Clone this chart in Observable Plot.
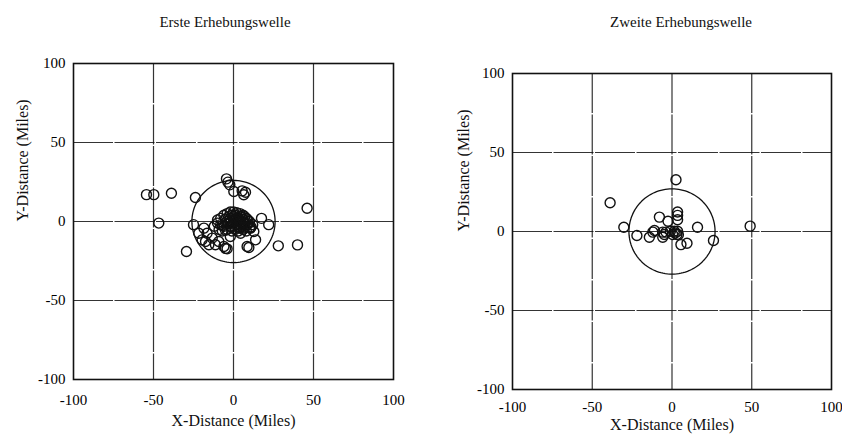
<!DOCTYPE html>
<html>
<head>
<meta charset="utf-8">
<script src="https://cdn.jsdelivr.net/npm/d3@7"></script>
<script src="https://cdn.jsdelivr.net/npm/@observablehq/plot@0.6"></script>
<style>
  html, body { margin: 0; padding: 0; background: #fff; }
  #wrap { position: relative; width: 842px; height: 438px; overflow: hidden; font-family: "Liberation Serif", "Times New Roman", serif; color: #111; }
  .ttl { position: absolute; top: 14px; font-size: 15px; transform: translateX(-50%); white-space: nowrap; z-index: 5; }
  .chart { position: absolute; top: 0; z-index: 1; }
</style>
</head>
<body>
<div id="wrap">
  <div class="chart" id="c1" style="left:0px"></div>
  <div class="chart" id="c2" style="left:421px"></div>
  <div class="ttl" id="t1" style="left:225px"></div>
  <div class="ttl" id="t2" style="left:681px"></div>
</div>
<script>
// ---- data ----
const titles = ["Erste Erhebungswelle", "Zweite Erhebungswelle"];
const xLabel = "X-Distance (Miles)";
const yLabel = "Y-Distance (Miles)";
const xTicks = [-100, -50, 0, 50, 100];
const yTicks = [-100, -50, 0, 50, 100];
const gridTicks = [-50, 0, 50];

// Wave 1: scattered circles
const wave1X = [-54.4, -49.8, -38.8, -23.8, -46.7, -29.4,
  -4.4, -3.5, -2.3, 0.2, 5.4, 6.4, 7.5,
  -25, 17.5, 22, 46, 28, 40, 9.6, -5, 13.8,
  -18.5, -16.5, -13.3, -17.5, -9.2, -6, -4, -11.3, 12.7, 8.5, -10, -8, -2, 4.4, 6.4, 10.6, -21.7, -19.6, -15.4,
  // dense core
  -12, -10, -8, -6, -4, -2, 0, 2, 4, 6, 8, 10, 12,
  -9, -6, -4, -2, 0, 2, 4, 6, 8, 10,
  -7, -4, -2, 0, 2, 4, 6, 8,
  -1, 1, 3, 5, -3, 1, 3, 5, 7, 9,
  -5, -3, -1, 1, 3, 5, 7, 9, -7, -5, -1, 3, 7, 11, 0, 2, 4, -2, 6];
const wave1Y = [17, 17, 17.9, 15.2, -1, -19,
  27, 24.9, 23.2, 19, 19.4, 16.9, 18.5,
  -2, 2, -2, 8.4, -15.4, -14.8, -16.5, -17, -11.6,
  -4.2, -7.4, -10.5, -12.7, -12.7, -15.8, -17.3, -14.7, -6.3, -15.8, 1, -2, -9.5, -7.4, -4.2, -4.2, -7.4, -11.6, -14.7,
  -3, -1, 2, 4, 5, 6, 6, 5.5, 5, 4, 2, 0, -2,
  -5, -3, 0, 2, 3, 2, 1, 0, -2, -4,
  -6, -5, -3, -1, -2, -4, -5, -6,
  -6, -5, 0, 3, 3, 1, -6, -3, 3, 1,
  1.5, -1.5, 4, 4, 2.5, -1, -1, -1.5, -2.5, -5.5, -3.5, -3.5, -3.5, -3.5, 0.5, 0, 3.5, -1, 1.5];

// Wave 2
const wave2X = [2.5, -38.8, -30.2, -22, -14.2, -11, -7.9, -2.5, -4.8, 3.5, 3.5, 3.5, 16, 26, 49,
  5.6, 9.4, -5.8, -3.75, -1, 1.5, 3.5, 0.4, 3.1, -5.8, -12, 2, 4];
const wave2Y = [32.8, 18.2, 2.7, -2.5, -3.6, 0.6, 9.1, 6.5, -1.9, 12.3, 10.2, 7.4, 2.7, -5.7, 3.4,
  -8.3, -7.4, -0.4, -0.4, 0.2, 0.2, 0.2, -1.9, -1.9, -3.6, -0.4, -1, -2];

const ringRadius = [26, 27];

// ---- drawing ----
document.getElementById("t1").textContent = titles[0];
document.getElementById("t2").textContent = titles[1];

function ring(r) {
  return d3.range(0, 361, 3).map(a => ({x: r * Math.cos(a * Math.PI / 180), y: r * Math.sin(a * Math.PI / 180)}));
}

function chart(xs, ys, r, m, xTitleDy, yTitleDx, xPad) {
  const pts = xs.map((x, i) => ({x, y: ys[i]}));
  return Plot.plot({
    width: 421,
    height: 438,
    marginLeft: m.left, marginRight: m.right, marginTop: m.top, marginBottom: m.bottom,
    style: {fontFamily: "'Liberation Serif', 'Times New Roman', serif", fontSize: "15px", color: "#000", background: "transparent"},
    x: {domain: [-100, 100], ticks: xTicks, tickSize: 0, tickPadding: xPad, label: null, tickFormat: d => String(d)},
    y: {domain: [-100, 100], ticks: yTicks, tickSize: 0, tickPadding: 8, label: null, tickFormat: d => String(d)},
    marks: [
      Plot.gridX(gridTicks, {stroke: "#111", strokeOpacity: 0.85, strokeWidth: 1.2, strokeDasharray: "40,1.5"}),
      Plot.gridY(gridTicks, {stroke: "#111", strokeOpacity: 0.85, strokeWidth: 1.2, strokeDasharray: "40,1.5"}),
      Plot.frame({stroke: "#111", strokeWidth: 1.6}),
      Plot.line(ring(r), {x: "x", y: "y", stroke: "#111", strokeWidth: 1.3}),
      Plot.dot(pts, {x: "x", y: "y", r: 5, stroke: "#111", strokeWidth: 1.4, fill: "none"}),
      Plot.text([xLabel], {frameAnchor: "bottom", dy: xTitleDy, fontSize: 16, fill: "#111"}),
      Plot.text([yLabel], {frameAnchor: "left", dx: yTitleDx, rotate: -90, fontSize: 16, fill: "#111"})
    ]
  });
}

document.getElementById("c1").appendChild(
  chart(wave1X, wave1Y, ringRadius[0], {left: 73, right: 28, top: 63, bottom: 59}, 46, -51, 15));
document.getElementById("c2").appendChild(
  chart(wave2X, wave2Y, ringRadius[1], {left: 91, right: 11, top: 73, bottom: 49}, 40, -49, 12));
</script>
</body>
</html>
